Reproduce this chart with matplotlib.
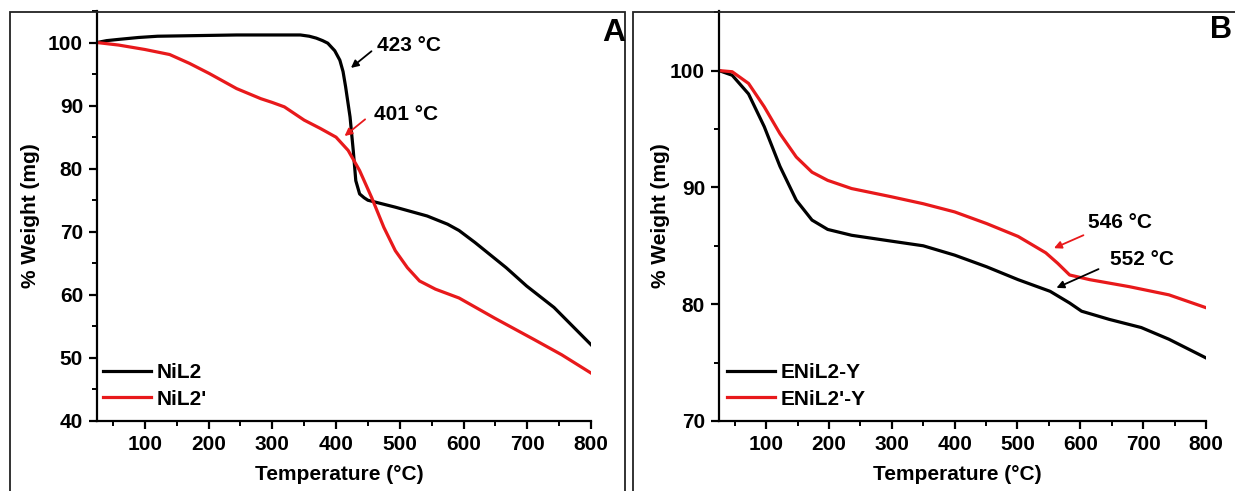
import matplotlib
matplotlib.use('Agg')
import matplotlib.pyplot as plt
from matplotlib.patches import Rectangle
from matplotlib.ticker import MultipleLocator

plt.rcParams['font.family'] = ['Liberation Sans', 'DejaVu Sans']
plt.rcParams['font.weight'] = 'bold'

# Panel A data
a_nil2_T = [25, 40, 59, 90, 120, 244, 344, 358, 369, 379, 387, 398, 406, 411, 415, 422, 427, 431, 437, 444, 450, 493, 543, 575, 593, 618, 667, 699, 742, 800]
a_nil2_W = [100, 100.3, 100.5, 100.8, 101, 101.2, 101.2, 101.0, 100.7, 100.3, 99.9, 98.7, 97.2, 95.4, 93, 88.2, 82.9, 78.1, 76.0, 75.4, 75.0, 73.9, 72.5, 71.2, 70.2, 68.3, 64.3, 61.4, 58.0, 52.1]
a_nil2p_T = [25, 59, 100, 139, 170, 201, 244, 282, 300, 319, 350, 375, 400, 419, 437, 456, 475, 493, 512, 531, 556, 593, 649, 711, 754, 800]
a_nil2p_W = [100, 99.6, 98.9, 98.1, 96.7, 95.1, 92.7, 91.1, 90.5, 89.8, 87.7, 86.4, 85.0, 82.9, 79.7, 75.4, 70.7, 67.0, 64.3, 62.2, 60.9, 59.5, 56.3, 52.9, 50.5, 47.6]

# Panel B data
b_en_T = [25, 46, 72, 97, 122, 148, 173, 198, 236, 299, 350, 400, 451, 501, 552, 583, 602, 646, 697, 741, 800]
b_en_W = [100, 99.6, 98.0, 95.2, 91.8, 88.9, 87.2, 86.4, 85.9, 85.4, 85.0, 84.2, 83.2, 82.1, 81.1, 80.1, 79.4, 78.7, 78.0, 77.0, 75.4]
b_enp_T = [25, 46, 72, 97, 122, 148, 173, 198, 236, 299, 350, 400, 451, 501, 545, 564, 583, 615, 678, 741, 800]
b_enp_W = [100, 99.9, 98.9, 96.9, 94.6, 92.6, 91.3, 90.6, 89.9, 89.2, 88.6, 87.9, 86.9, 85.8, 84.4, 83.5, 82.5, 82.1, 81.5, 80.8, 79.7]

x_ticks = [100, 200, 300, 400, 500, 600, 700, 800]

W, H = 1235, 491
FS = 15
RED = '#e8191b'
fig = plt.figure(figsize=(W / 100, H / 100), dpi=100)

def style(ax, ymin, ymax, ymajor, yminor, ylab_x):
    ax.set_xlim(25, 800)
    ax.set_ylim(ymin, ymax)
    ax.set_xticks(x_ticks)
    ax.xaxis.set_minor_locator(MultipleLocator(50))
    ax.yaxis.set_major_locator(MultipleLocator(ymajor))
    ax.yaxis.set_minor_locator(MultipleLocator(yminor))
    for s in ['top', 'right']:
        ax.spines[s].set_visible(False)
    for s in ['left', 'bottom']:
        ax.spines[s].set_linewidth(1.6)
    ax.tick_params(which='major', direction='out', length=6, width=1.6, labelsize=FS, pad=4)
    ax.tick_params(which='minor', direction='out', length=3.5, width=1.4)
    for lab in ax.get_xticklabels() + ax.get_yticklabels():
        lab.set_fontweight('bold')
    ax.set_xlabel('Temperature (°C)', fontsize=FS, fontweight='bold')
    ax.xaxis.set_label_coords(0.49, -0.108)
    ax.set_ylabel('% Weight (mg)', fontsize=FS, fontweight='bold')
    ax.yaxis.set_label_coords(ylab_x, 0.5)
    ax.yaxis.label.set_verticalalignment('center')

def legend(ax, x0):
    ax.legend(loc='lower left', bbox_to_anchor=(x0, 0.03), frameon=False,
              handlelength=2.3, handletextpad=0.3, borderpad=0, borderaxespad=0,
              labelspacing=0.35, prop={'weight': 'bold', 'size': FS})

def arrow(ax, head, tail, color):
    ax.annotate('', xy=head, xytext=tail,
                arrowprops=dict(arrowstyle='-|>', color=color, lw=1.3, mutation_scale=11))

# Panel A
axA = fig.add_axes([97 / W, 1 - 421 / H, (591 - 97) / W, (421 - 11) / H])
axA.plot(a_nil2_T, a_nil2_W, color='black', lw=2.3, label='NiL2')
axA.plot(a_nil2p_T, a_nil2p_W, color=RED, lw=2.3, label="NiL2'")
style(axA, 40, 105.0, 10, 5, -0.134)
legend(axA, 0.012)
arrow(axA, (420, 95.7), (459, 98.9), 'black')
axA.text(465, 99.6, '423 °C', fontsize=FS, fontweight='bold', va='center', ha='left')
arrow(axA, (410, 84.9), (449, 88.1), RED)
axA.text(459, 88.6, '401 °C', fontsize=FS, fontweight='bold', va='center', ha='left')

# Panel B
axB = fig.add_axes([719 / W, 1 - 421 / H, (1206 - 719) / W, (421 - 11) / H])
axB.plot(b_en_T, b_en_W, color='black', lw=2.3, label='ENiL2-Y')
axB.plot(b_enp_T, b_enp_W, color=RED, lw=2.3, label="ENiL2'-Y")
style(axB, 70, 105.1, 10, 5, -0.121)
legend(axB, 0.016)
arrow(axB, (554, 84.7), (609, 86.0), RED)
axB.text(612, 87.0, '546 °C', fontsize=FS, fontweight='bold', va='center', ha='left')
arrow(axB, (558, 81.3), (633, 83.1), 'black')
axB.text(647, 83.8, '552 °C', fontsize=FS, fontweight='bold', va='center', ha='left')

# Panel letters
fig.text(602 / W, 1 - 33 / H, 'A', fontsize=23, fontweight='bold', ha='left', va='center')
fig.text(1210 / W, 1 - 30 / H, 'B', fontsize=22, fontweight='bold', ha='left', va='center')

# Panel frames
fig.patches.append(Rectangle((10 / W, -0.1), (625 - 10) / W, (H - 12) / H + 0.1,
                             transform=fig.transFigure, fill=False, lw=1.3, ec='#222222'))
fig.patches.append(Rectangle((633 / W, -0.1), (1245 - 633) / W, (H - 12) / H + 0.1,
                             transform=fig.transFigure, fill=False, lw=1.3, ec='#222222'))

fig.savefig('out.png', dpi=100)
